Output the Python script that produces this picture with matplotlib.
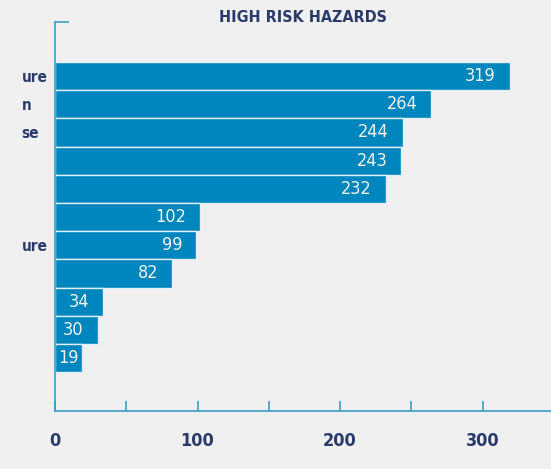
import matplotlib.pyplot as plt
from matplotlib.ticker import MultipleLocator, FixedLocator

# data (labels are cut off by the left edge)
labels = ["ure", "n", "se", "", "", "", "ure", "", "", "", ""]
values = [319, 264, 244, 243, 232, 102, 99, 82, 34, 30, 19]

bar_color = "#0086BE"
axis_color = "#3A9CC8"
text_color = "#2A3A6A"
bg = "#F0F0F0"

fig = plt.figure(figsize=(5.51, 4.69), dpi=100, facecolor=bg)
ax = fig.add_axes([55 / 551, 58 / 469, 496 / 551, 389 / 469], facecolor=bg)

pos = list(range(len(values)))
ax.barh(pos, values, height=1.0, color=bar_color, edgecolor="#E4EEF3", linewidth=1.0)

ax.set_xlim(0, 348)
ax.set_ylim(11.88, -1.92)

for y, v in zip(pos, values):
    if v < 25:
        ax.annotate(str(v), (0, y), xytext=(2, 0), textcoords="offset points",
                    ha="left", va="center", color="#F2F2E6", fontsize=13,
                    family="DejaVu Sans", fontstretch="condensed")
    else:
        ax.annotate(str(v), (v, y), xytext=(-10, 0), textcoords="offset points",
                    ha="right", va="center", color="#F2F2E6", fontsize=13,
                    family="DejaVu Sans", fontstretch="condensed")

for s in ["top", "right"]:
    ax.spines[s].set_visible(False)
for s in ["left", "bottom"]:
    ax.spines[s].set_color(axis_color)
    ax.spines[s].set_linewidth(1.2)

ax.xaxis.set_major_locator(MultipleLocator(100))
ax.xaxis.set_minor_locator(MultipleLocator(50))
ax.tick_params(axis="x", which="both", direction="in", length=7, width=1.2,
               color=axis_color, labelcolor=text_color, labelsize=13, pad=15)

ax.set_yticks(pos)
ax.set_yticklabels(labels)
ax.tick_params(axis="y", which="major", length=0, pad=24,
               labelcolor=text_color, labelsize=11)
# small tick at the top of the y axis
ax.yaxis.set_minor_locator(FixedLocator([-1.92]))
ax.tick_params(axis="y", which="minor", direction="in", length=10, width=1.2,
               color=axis_color)

for t in ax.get_xticklabels() + ax.get_yticklabels():
    t.set_fontstretch("condensed")
    t.set_fontweight("bold")
for t in ax.get_yticklabels():
    t.set_horizontalalignment("left")

fig.text(303 / 551, 1 - 18 / 469, "HIGH RISK HAZARDS", ha="center", va="center",
         color=text_color, fontsize=11.5, fontweight="bold", fontstretch="condensed")

fig.savefig("out.png", dpi=100, facecolor=bg)
